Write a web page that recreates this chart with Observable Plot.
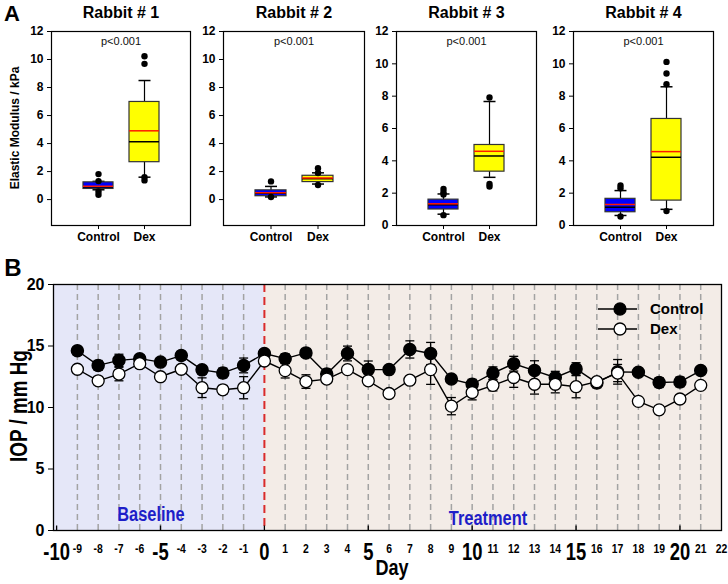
<!DOCTYPE html>
<html><head><meta charset="utf-8">
<script src="https://cdn.jsdelivr.net/npm/d3@7"></script>
<script src="https://cdn.jsdelivr.net/npm/@observablehq/plot@0.6"></script>
<style>
body{margin:0;background:#fff}
#root{position:relative;width:728px;height:584px;overflow:hidden;font-family:"Liberation Sans",Arial,sans-serif;background:#fff}
.abs{position:absolute;white-space:nowrap;line-height:1;transform:translate(-50%,-50%)}
.rot{transform:translate(-50%,-50%) rotate(-90deg)}
.narrow{transform:translate(-50%,-50%) scaleX(0.82)}
.rotnarrow{transform:translate(-50%,-50%) rotate(-90deg) scaleX(0.82)}
</style></head><body><div id="root"></div>
<script>
// ---------- Panel A data ----------
const groups = ["Control", "Dex"];
const rabbits = ["Rabbit # 1", "Rabbit # 2", "Rabbit # 3", "Rabbit # 4"];
const pValues = ["p<0.001", "p<0.001", "p<0.001", "p<0.001"];
const modulusTicks = [0, 2, 4, 6, 8, 10, 12];
// per rabbit: [Control, Dex]
const q1 = [[0.76, 2.67], [0.24, 1.25], [0.99, 3.33], [0.82, 1.54]];
const q3 = [[1.23, 6.97], [0.66, 1.70], [1.60, 4.98], [1.65, 6.59]];
const median = [[0.90, 4.13], [0.45, 1.49], [1.28, 4.30], [1.13, 4.22]];
const mean = [[0.95, 4.91], [0.49, 1.54], [1.34, 4.59], [1.30, 4.57]];
const whiskerLow = [[0.70, 1.60], [0.19, 1.11], [0.70, 2.98], [0.62, 1.00]];
const whiskerHigh = [[1.30, 8.50], [0.94, 1.91], [1.95, 7.67], [2.16, 8.58]];
const outliers = [
  [[1.82, 1.32, 0.58, 0.35], [10.23, 9.69, 1.60, 1.37]],
  [[1.30, 0.19], [2.24, 1.90, 1.04]],
  [[2.26, 2.06, 1.92, 0.64], [7.92, 2.57, 2.41]],
  [[2.47, 2.30, 0.56], [10.12, 9.40, 8.74, 0.89]]
];

// ---------- Panel B data ----------
const days = [-9,-8,-7,-6,-5,-4,-3,-2,-1,0,1,2,3,4,5,6,7,8,9,10,11,12,13,14,15,16,17,18,19,20,21];
const controlIOP = [14.61,13.42,13.83,13.97,13.69,14.22,13.06,12.81,13.42,14.39,13.97,14.44,12.72,14.39,13.08,13.08,14.72,14.39,12.31,11.89,12.80,13.56,13.00,12.44,13.14,12.00,12.90,12.86,12.03,12.08,13.00];
const controlSE  = [0.35,0.40,0.50,0.30,0.30,0.35,0.30,0.40,0.60,0.30,0.40,0.30,0.40,0.60,0.70,0.30,0.70,0.90,0.30,0.40,0.50,0.60,0.80,0.50,0.50,0.40,1.00,0.30,0.40,0.40,0.30];
const dexIOP     = [13.11,12.17,12.72,13.56,12.50,13.11,11.61,11.44,11.61,13.78,13.00,12.11,12.31,13.08,12.17,11.14,12.22,13.08,10.11,11.22,11.80,12.44,11.89,11.89,11.69,12.10,12.80,10.50,9.81,10.69,11.80];
const dexSE      = [0.30,0.30,0.55,0.35,0.30,0.30,0.80,0.35,0.90,0.30,0.60,0.55,0.30,0.30,0.30,0.30,0.30,1.20,0.70,0.60,0.45,0.80,0.80,0.70,0.90,0.30,0.70,0.30,0.30,0.30,0.30];
const seriesNames = ["Control", "Dex"];
const phases = ["Baseline", "Treatment"];
const phaseStart = [-10.15, 0];
const phaseEnd = [0, 22];
const majorDayTicks = [-10, -5, 0, 5, 10, 15, 20];
const minorDayTicks = [-9,-8,-7,-6,-4,-3,-2,-1,1,2,3,4,6,7,8,9,11,12,13,14,16,17,18,19,21,22];
const iopTicks = [0, 5, 10, 15, 20];

// ---------- helpers ----------
const root = document.getElementById("root");
const capSymbol = {draw(ctx, size){const r = Math.sqrt(size/Math.PI); ctx.moveTo(-r,0); ctx.lineTo(r,0);}};
const tickUp = {draw(ctx, size){const r = Math.sqrt(size/Math.PI); ctx.moveTo(0,0); ctx.lineTo(0,-r);}};
const hyphen = d => String(d);
function place(node, left, top){node.style.position="absolute"; node.style.left=left+"px"; node.style.top=top+"px"; root.appendChild(node);}
function label(text, cx, cy, css, cls){const d=document.createElement("div"); d.className="abs "+(cls||""); d.textContent=text; d.style.left=cx+"px"; d.style.top=cy+"px"; d.style.cssText+=css; root.appendChild(d);}

// ---------- Panel A ----------
const frames = [[51,190],[223,364],[396,536],[573,713]];
const yDomains = [[-1.85,12],[-1.85,12],[0,12],[0,12]];
const mL = 40, mR = 6;
rabbits.forEach((name, i) => {
  const rows = groups.map((g, j) => ({group: g, q1: q1[i][j], q3: q3[i][j], median: median[i][j], mean: mean[i][j], lo: whiskerLow[i][j], hi: whiskerHigh[i][j]}));
  const outRows = groups.flatMap((g, j) => outliers[i][j].map(v => ({group: g, v})));
  const [L, R] = frames[i];
  const chart = Plot.plot({
    width: R - L + mL + mR, height: 250,
    marginTop: 31, marginBottom: 25, marginLeft: mL, marginRight: mR,
    x: {type: "band", domain: groups, paddingInner: 0.35, paddingOuter: 0.675, align: 0.5, label: null},
    y: {domain: yDomains[i], label: null},
    color: {domain: groups, range: ["#0000ff", "#ffff00"]},
    style: {fontFamily: "'Liberation Sans',Arial,sans-serif", fontSize: "12px", fontWeight: "bold", background: "transparent", overflow: "visible", color: "black"},
    marks: [
      Plot.ruleX(rows, {x: "group", y1: "lo", y2: "hi", stroke: "black", strokeWidth: 1.2}),
      Plot.dot(rows, {x: "group", y: "lo", symbol: capSymbol, r: 6, fill: "none", stroke: "black", strokeWidth: 1.5}),
      Plot.dot(rows, {x: "group", y: "hi", symbol: capSymbol, r: 6, fill: "none", stroke: "black", strokeWidth: 1.5}),
      Plot.barY(rows, {x: "group", y1: "q1", y2: "q3", fill: "group", stroke: "#333", strokeWidth: 1.2, inset: 0}),
      Plot.tickY(rows, {x: "group", y: "median", stroke: "black", strokeWidth: 1.5}),
      Plot.tickY(rows, {x: "group", y: "mean", stroke: "#ff1a00", strokeWidth: 1.5}),
      Plot.dot(outRows, {x: "group", y: "v", r: 3.2, fill: "black", stroke: "none"}),
      Plot.frame({stroke: "black", strokeWidth: 1.2}),
      Plot.axisY({ticks: modulusTicks, tickSize: 4, tickPadding: 4, label: null, fontSize: 12, fontWeight: "bold"}),
      Plot.axisX({tickSize: 4, tickPadding: 3, label: null, fontSize: 12, fontWeight: "bold"}),
      Plot.text([pValues[i]], {frameAnchor: "top", text: d => d, lineAnchor: "middle", dy: 10, fontSize: 11, fontWeight: "normal", fill: "#111"}),
      Plot.text([name], {frameAnchor: "top", text: d => d, lineAnchor: "middle", dy: -19, fontSize: 16, fontWeight: "bold", fill: "black"})
    ]
  });
  place(chart, L - mL, 0);
});

// ---------- Panel B ----------
const ctrlRows = days.map((d, k) => ({day: d, v: controlIOP[k], e: controlSE[k]}));
const dexRows = days.map((d, k) => ({day: d, v: dexIOP[k], e: dexSE[k]}));
const phaseRows = phases.map((p, k) => ({phase: p, start: phaseStart[k], end: phaseEnd[k]}));
const bgColor = {Baseline: "#e5e7f8", Treatment: "#f3ece7"};
const chartB = Plot.plot({
  width: 728, height: 334,
  marginTop: 34, marginBottom: 54, marginLeft: 53, marginRight: 7,
  x: {domain: [phaseStart[0], phaseEnd[1]], label: null},
  y: {domain: [0, 20], label: null},
  style: {fontFamily: "'Liberation Sans',Arial,sans-serif", fontSize: "16px", fontWeight: "bold", background: "transparent", overflow: "visible", color: "black"},
  marks: [
    ...phaseRows.map(r => Plot.rect([r], {x1: "start", x2: "end", y1: 0, y2: 20, fill: bgColor[r.phase]})),
    Plot.ruleX(days.filter(d => !phaseStart.includes(d)), {x: d => d, stroke: "#a3a3a3", strokeWidth: 1.5, strokeDasharray: "6,4"}),
    Plot.ruleX(phaseRows.slice(1), {x: "start", stroke: "#d92b2b", strokeWidth: 2, strokeDasharray: "8,5"}),
    Plot.line(ctrlRows, {x: "day", y: "v", stroke: "black", strokeWidth: 1.4}),
    Plot.line(dexRows, {x: "day", y: "v", stroke: "black", strokeWidth: 1.4}),
    Plot.ruleX(ctrlRows, {x: "day", y1: d => d.v - d.e, y2: d => d.v + d.e, stroke: "black", strokeWidth: 1.3}),
    Plot.dot(ctrlRows, {x: "day", y: d => d.v - d.e, symbol: capSymbol, r: 4.5, fill: "none", stroke: "black", strokeWidth: 1.3}),
    Plot.dot(ctrlRows, {x: "day", y: d => d.v + d.e, symbol: capSymbol, r: 4.5, fill: "none", stroke: "black", strokeWidth: 1.3}),
    Plot.dot(ctrlRows, {x: "day", y: "v", r: 6, fill: "black", stroke: "black"}),
    Plot.ruleX(dexRows, {x: "day", y1: d => d.v - d.e, y2: d => d.v + d.e, stroke: "black", strokeWidth: 1.3}),
    Plot.dot(dexRows, {x: "day", y: d => d.v - d.e, symbol: capSymbol, r: 4.5, fill: "none", stroke: "black", strokeWidth: 1.3}),
    Plot.dot(dexRows, {x: "day", y: d => d.v + d.e, symbol: capSymbol, r: 4.5, fill: "none", stroke: "black", strokeWidth: 1.3}),
    Plot.dot(dexRows, {x: "day", y: "v", r: 6, fill: "white", stroke: "black", strokeWidth: 1.3}),
    Plot.frame({stroke: "black", strokeWidth: 1.3}),
    Plot.dot(majorDayTicks, {x: d => d, y: 0, symbol: tickUp, r: 5, fill: "none", stroke: "black", strokeWidth: 1.3}),
    Plot.axisY({ticks: iopTicks, tickSize: 5, tickPadding: 4, label: null, fontSize: 16, fontWeight: "bold"}),
    Plot.axisX({ticks: majorDayTicks, tickFormat: hyphen, tickSize: 0, tickPadding: 13, label: null, fontSize: 23, fontWeight: "bold"}),
    Plot.axisX({ticks: minorDayTicks, tickFormat: hyphen, tickSize: 0, tickPadding: 13, label: null, fontSize: 13, fontWeight: "bold"})
  ]
});
// condense the day tick labels (narrow bold face look)
chartB.querySelectorAll("g[aria-label='x-axis tick label'] text").forEach(t => {
  const tr = t.getAttribute("transform") || "";
  t.setAttribute("transform", tr + " scale(0.8,1)");
});
place(chartB, 0, 250);

// ---------- outside texts ----------
label("A", 12, 14, "font-size:22px;font-weight:bold;");
label("B", 13, 268, "font-size:24px;font-weight:bold;");
label("Elastic Modulus / kPa", 15, 128, "font-size:12px;font-weight:bold;", "rot");
label("IOP / mm Hg", 19, 406, "font-size:23px;font-weight:bold;", "rotnarrow");
label("Day", 392, 568, "font-size:22px;font-weight:bold;", "narrow");
label(phases[0], 151, 514, "font-size:20px;font-weight:bold;color:#1e1ec8;", "narrow");
label(phases[1], 488, 518, "font-size:20px;font-weight:bold;color:#1e1ec8;", "narrow");

// ---------- legend ----------
const ns = "http://www.w3.org/2000/svg";
const leg = document.createElementNS(ns, "svg");
leg.setAttribute("width", 130); leg.setAttribute("height", 44);
seriesNames.forEach((s, k) => {
  const y = 10 + k * 20;
  const ln = document.createElementNS(ns, "line");
  ln.setAttribute("x1", 2); ln.setAttribute("x2", 41); ln.setAttribute("y1", y); ln.setAttribute("y2", y);
  ln.setAttribute("stroke", "black"); ln.setAttribute("stroke-width", 1.4); leg.appendChild(ln);
  const c = document.createElementNS(ns, "circle");
  c.setAttribute("cx", 24); c.setAttribute("cy", y); c.setAttribute("r", 6);
  c.setAttribute("fill", k === 0 ? "black" : "white"); c.setAttribute("stroke", "black"); c.setAttribute("stroke-width", 1.3); leg.appendChild(c);
  const t = document.createElementNS(ns, "text");
  t.setAttribute("x", 54); t.setAttribute("y", y); t.setAttribute("dy", "0.35em");
  t.setAttribute("font-family", "'Liberation Sans',Arial,sans-serif"); t.setAttribute("font-size", 15); t.setAttribute("font-weight", "bold");
  t.textContent = s; leg.appendChild(t);
});
place(leg, 596, 299);
</script></body></html>
